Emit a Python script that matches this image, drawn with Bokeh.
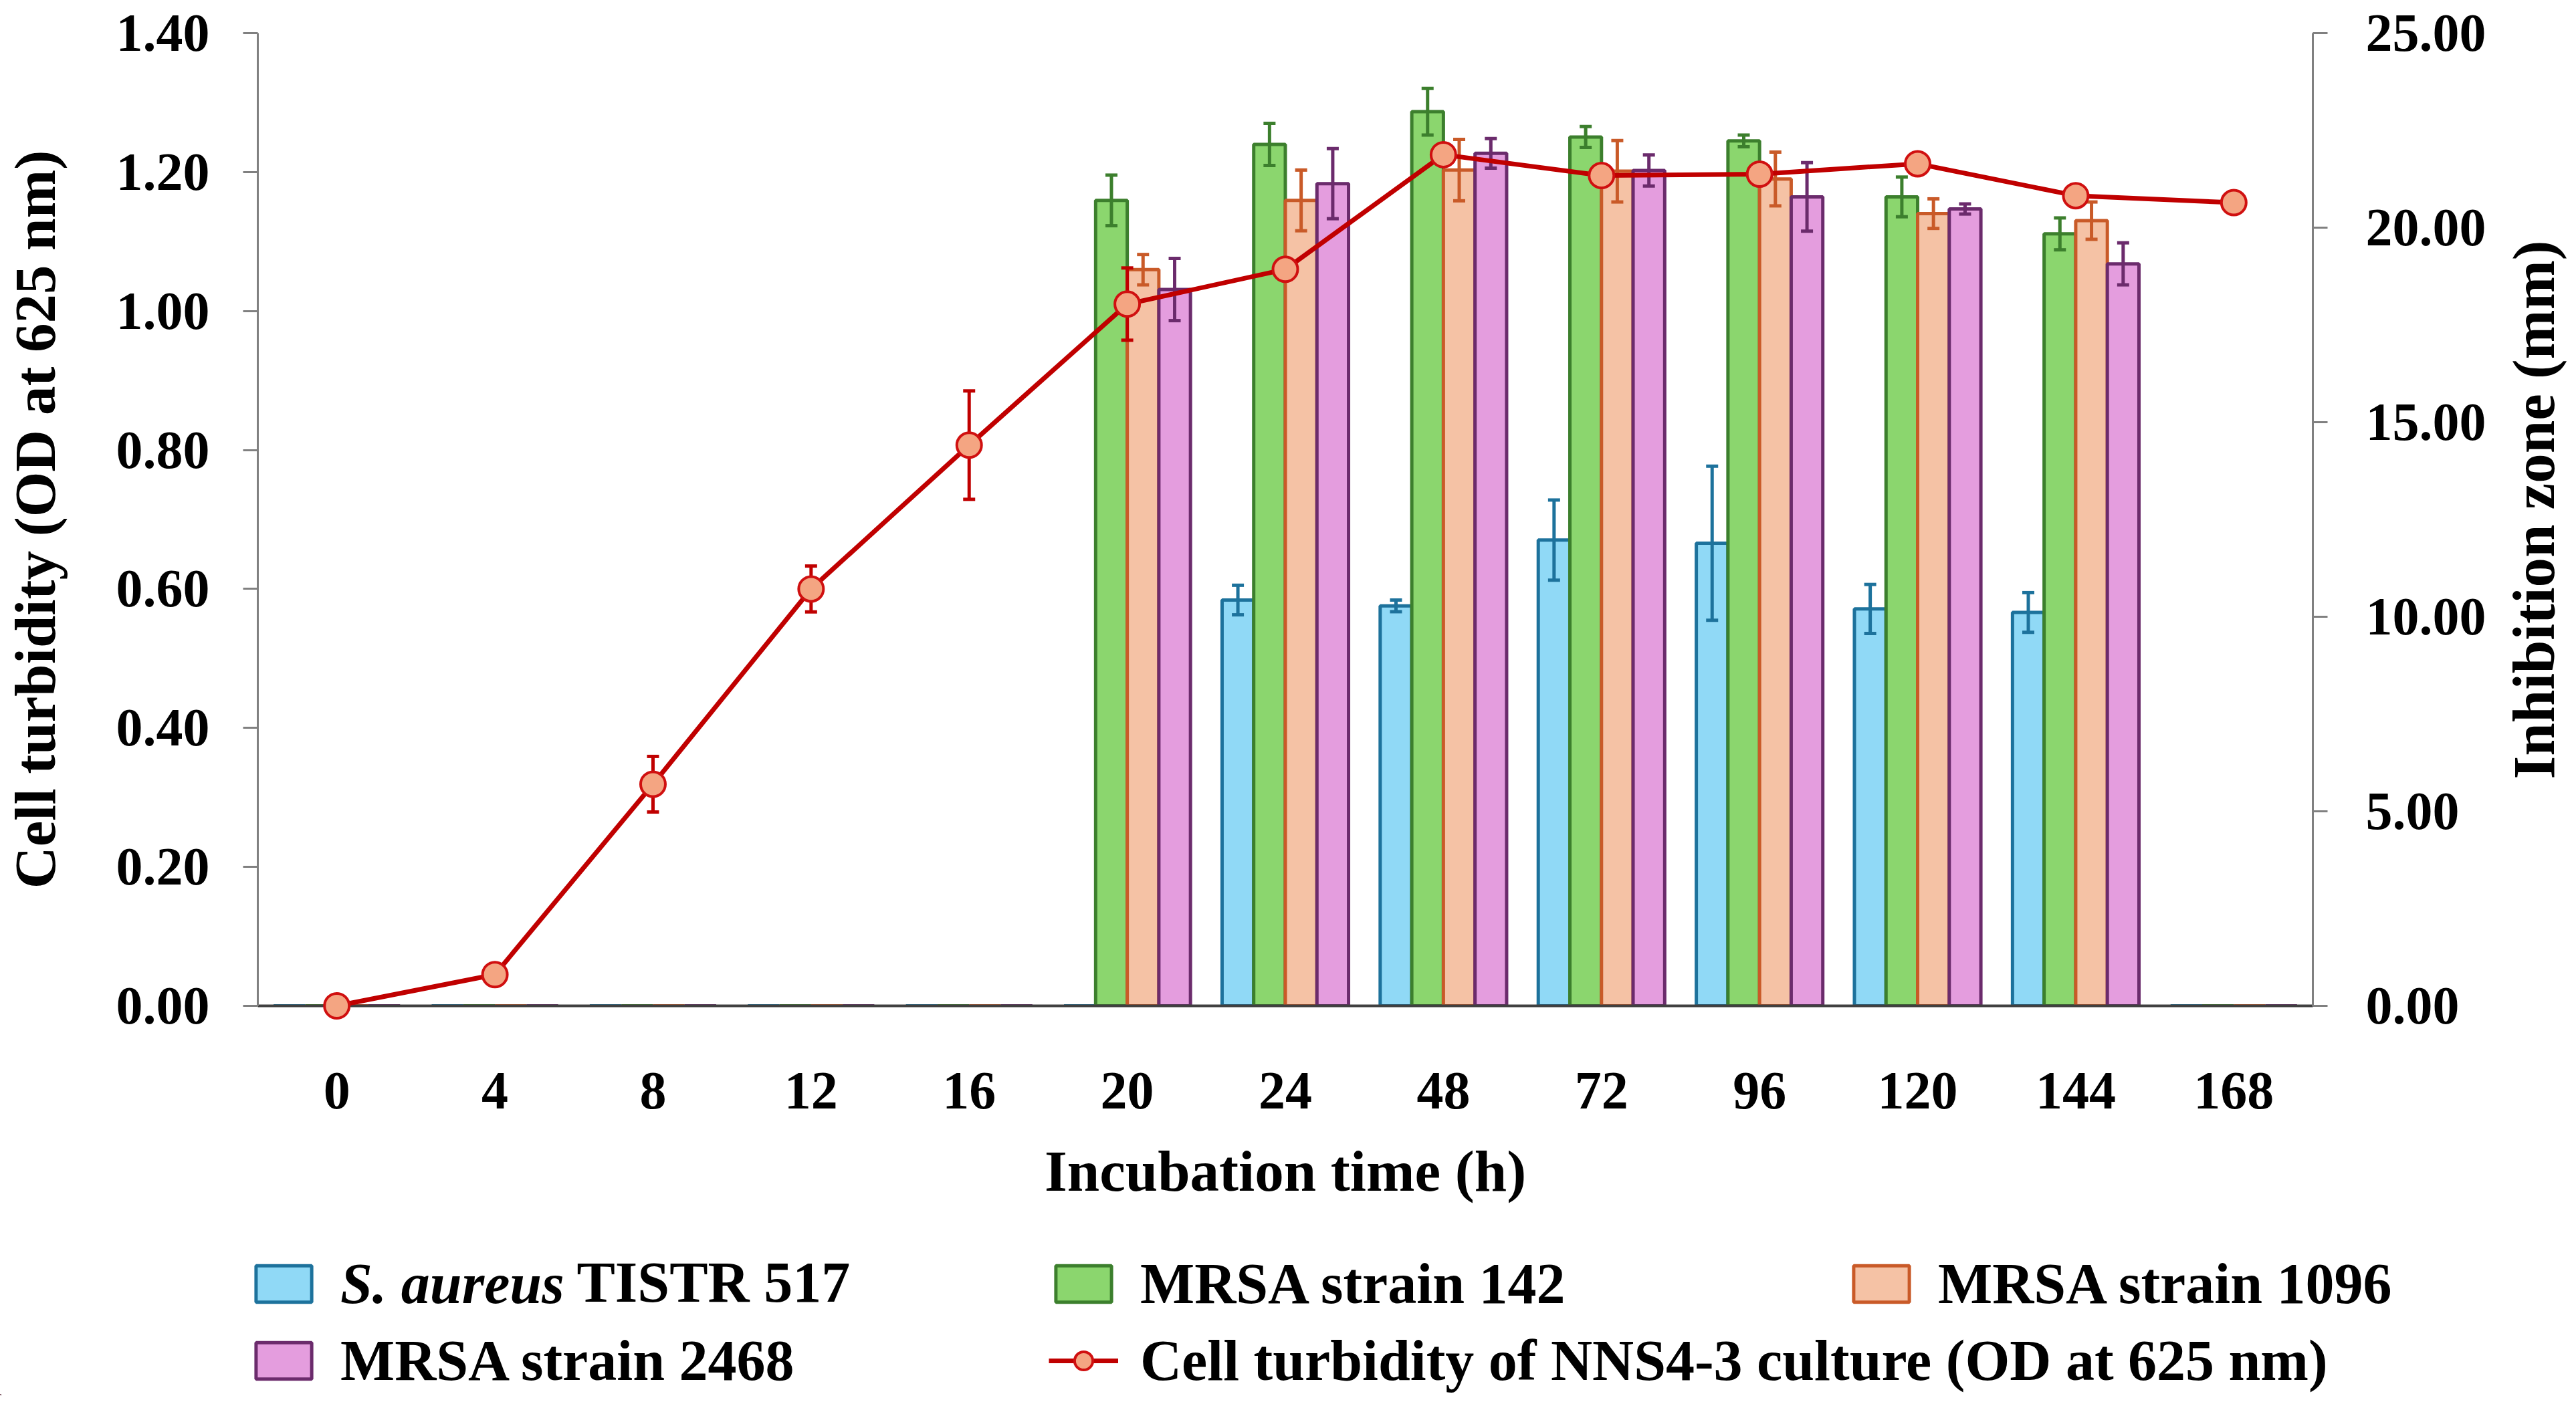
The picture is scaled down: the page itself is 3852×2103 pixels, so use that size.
from bokeh.plotting import figure
from bokeh.layouts import column, row
from bokeh.models import (Range1d, LinearAxis, FactorRange, Whisker, TeeHead, ColumnDataSource,
                          Legend, LegendItem, Label, FixedTicker, PrintfTickFormatter)
from bokeh.transform import dodge
from bokeh.embed import file_html
from bokeh.resources import INLINE
import math

# ---------------- data ----------------
times = ["0", "4", "8", "12", "16", "20", "24", "48", "72", "96", "120", "144", "168"]

od = [0.000, 0.045, 0.319, 0.600, 0.807, 1.010, 1.060, 1.225, 1.195, 1.197, 1.212, 1.166, 1.156]
od_err = [0.000, 0.004, 0.040, 0.033, 0.078, 0.052, 0.010, 0.010, 0.008, 0.008, 0.006, 0.008, 0.005]

sa = [0, 0, 0, 0, 0, 0, 10.43, 10.28, 11.97, 11.89, 10.20, 10.11, 0]
sa_err = [0, 0, 0, 0, 0, 0, 0.38, 0.15, 1.03, 1.98, 0.63, 0.51, 0]
m142 = [0, 0, 0, 0, 0, 20.70, 22.14, 22.98, 22.33, 22.23, 20.79, 19.84, 0]
m142_err = [0, 0, 0, 0, 0, 0.65, 0.54, 0.60, 0.27, 0.15, 0.51, 0.41, 0]
m1096 = [0, 0, 0, 0, 0, 18.92, 20.70, 21.48, 21.45, 21.25, 20.36, 20.18, 0]
m1096_err = [0, 0, 0, 0, 0, 0.39, 0.78, 0.79, 0.79, 0.69, 0.38, 0.48, 0]
m2468 = [0, 0, 0, 0, 0, 18.41, 21.13, 21.91, 21.47, 20.79, 20.48, 19.07, 0]
m2468_err = [0, 0, 0, 0, 0, 0.80, 0.90, 0.38, 0.40, 0.88, 0.13, 0.54, 0]

left_ticks = [0.0, 0.2, 0.4, 0.6, 0.8, 1.0, 1.2, 1.4]
right_ticks = [0, 5, 10, 15, 20, 25]

series = [
    ("sa", sa, sa_err, "#90D9F6", "#1D729C", -0.3),
    ("m142", m142, m142_err, "#8BD66E", "#3C7F2D", -0.1),
    ("m1096", m1096, m1096_err, "#F5C2A5", "#C95A28", 0.1),
    ("m2468", m2468, m2468_err, "#E49DDE", "#6B2B6C", 0.3),
]
LINE_RED = "#C00000"
MARK_FILL = "#F4A582"
MARK_LINE = "#D01010"

FONT = "Liberation Serif"

p = figure(x_range=FactorRange(*times, range_padding=0), y_range=Range1d(0, 1.4),
           frame_width=3073, frame_height=1455,
           min_border_left=378, min_border_right=270, min_border_top=49, min_border_bottom=350,
           output_backend="svg", toolbar_location=None, tools="")
p.frame_align = False
p.outline_line_color = None
p.grid.grid_line_color = None
p.extra_y_ranges = {"mm": Range1d(0, 25)}

for name, vals, errs, fill, line, off in series:
    src = ColumnDataSource(dict(t=times, v=vals))
    p.vbar(x=dodge("t", off, range=p.x_range), top="v", bottom=0, width=0.2, source=src,
           fill_color=fill, line_color=line, line_width=5, y_range_name="mm")
    keep = [i for i in range(len(times)) if vals[i] > 0]
    wsrc = ColumnDataSource(dict(t=[times[i] for i in keep],
                                 upper=[vals[i] + errs[i] for i in keep],
                                 lower=[vals[i] - errs[i] for i in keep]))
    w = Whisker(base=dodge("t", off, range=p.x_range), upper="upper", lower="lower", source=wsrc,
                y_range_name="mm", line_color=line, line_width=5, level="annotation",
                upper_head=TeeHead(size=18, line_color=line, line_width=5),
                lower_head=TeeHead(size=18, line_color=line, line_width=5))
    p.add_layout(w)

# line series (left axis)
lsrc = ColumnDataSource(dict(t=times, v=od,
                             upper=[a + b for a, b in zip(od, od_err)],
                             lower=[a - b for a, b in zip(od, od_err)]))
lw = Whisker(base="t", upper="upper", lower="lower", source=lsrc, line_color=LINE_RED, line_width=5,
             level="annotation",
             upper_head=TeeHead(size=18, line_color=LINE_RED, line_width=5),
             lower_head=TeeHead(size=18, line_color=LINE_RED, line_width=5))
p.add_layout(lw)
p.line(x="t", y="v", source=lsrc, line_color=LINE_RED, line_width=7, level="overlay")
p.scatter(x="t", y="v", source=lsrc, size=37, fill_color=MARK_FILL, line_color=MARK_LINE,
          line_width=4, level="overlay")

# axes
yl = p.yaxis[0]
yl.ticker = FixedTicker(ticks=left_ticks)
yl.formatter = PrintfTickFormatter(format="%.2f")
yl.axis_label = "Cell turbidity (OD at 625 nm)"

yr = LinearAxis(y_range_name="mm", ticker=FixedTicker(ticks=right_ticks),
                formatter=PrintfTickFormatter(format="%.2f"))
p.add_layout(yr, "right")

for ax in (yl, yr):
    ax.axis_line_color = "#808080"
    ax.axis_line_width = 3
    ax.major_tick_line_color = "#808080"
    ax.major_tick_line_width = 3
    ax.major_tick_out = 22
    ax.major_tick_in = 0
    ax.minor_tick_line_color = None
    ax.major_label_text_font = FONT
    ax.major_label_text_font_style = "bold"
    ax.major_label_text_font_size = "80px"
    ax.major_label_text_color = "black"
    ax.axis_label_text_font = FONT
    ax.axis_label_text_font_style = "bold"
    ax.axis_label_text_font_size = "87px"
    ax.axis_label_text_color = "black"
yl.major_label_standoff = 50
yl.axis_label_standoff = 70
yr.major_label_standoff = 57

xa = p.xaxis[0]
xa.axis_label = "Incubation time (h)"
xa.axis_line_color = "#404040"
xa.axis_line_width = 4
xa.major_tick_line_color = None
xa.major_tick_out = 0
xa.major_tick_in = 0
xa.major_label_text_font = FONT
xa.major_label_text_font_style = "bold"
xa.major_label_text_font_size = "80px"
xa.major_label_text_color = "black"
xa.major_label_standoff = 100
xa.axis_label_text_font = FONT
xa.axis_label_text_font_style = "bold"
xa.axis_label_text_font_size = "87px"
xa.axis_label_text_color = "black"
xa.axis_label_standoff = 42

# ---------------- right-hand axis title panel ----------------
pr = figure(width=115, height=1854, x_range=Range1d(0, 1), y_range=Range1d(0, 1),
            x_axis_type=None, y_axis_type=None, min_border=0,
            output_backend="svg", toolbar_location=None, tools="")
pr.frame_align = False
pr.outline_line_color = None
pr.grid.visible = False
pr.add_layout(Label(x=60, y=1092, x_units="screen", y_units="screen", text="Inhibition zone (mm)",
                    angle=math.pi / 2, text_align="center", text_baseline="middle",
                    text_font=FONT, text_font_style="bold", text_font_size="89px", text_color="black"))

# ---------------- legend panel ----------------
pl = figure(width=3836, height=233, x_range=Range1d(0, 1), y_range=Range1d(0, 1),
            x_axis_type=None, y_axis_type=None, min_border=0,
            output_backend="svg", toolbar_location=None, tools="")
pl.frame_align = False
pl.outline_line_color = None
pl.grid.visible = False

# off-screen proxies that only supply the legend swatches
leg_r = {}
for name, vals, errs, fill, line, off in series:
    leg_r[name] = pl.vbar(x=[-5], top=[-5], bottom=[-6], width=0.2,
                          fill_color=fill, line_color=line, line_width=5)
leg_line = pl.line(x=[-6, -5], y=[-5, -5], line_color=LINE_RED, line_width=7)
leg_mark = pl.scatter(x=[-5], y=[-5], size=37, fill_color=MARK_FILL, line_color=MARK_LINE, line_width=4)


def make_legend(items, loc, style="bold"):
    lg = Legend(items=items, location=loc, orientation="vertical",
                border_line_color=None, background_fill_alpha=0, padding=0, margin=0,
                spacing=0, glyph_width=104, glyph_height=68, label_standoff=33,
                label_text_font=FONT, label_text_font_style=style, label_text_font_size="86px",
                label_text_color="black")
    pl.add_layout(lg, "center")
    return lg


row1_y = 117
row2_y = 2
make_legend([LegendItem(label="S. aureus", renderers=[leg_r["sa"]])], (372, row1_y), "bold italic")
make_legend([LegendItem(label="MRSA strain 2468", renderers=[leg_r["m2468"]])], (372, row2_y))
make_legend([LegendItem(label="MRSA strain 142", renderers=[leg_r["m142"]])], (1568, row1_y))
make_legend([LegendItem(label="Cell turbidity of NNS4-3 culture (OD at 625 nm)",
                        renderers=[leg_line, leg_mark])], (1568, row2_y))
make_legend([LegendItem(label="MRSA strain 1096", renderers=[leg_r["m1096"]])], (2761, row1_y))

pl.add_layout(Label(x=862, y=170, x_units="screen", y_units="screen", text="TISTR 517",
                    text_font=FONT, text_font_style="bold", text_font_size="86px",
                    text_baseline="middle", text_color="black"))

layout = column(row(p, pr, spacing=0), pl, spacing=0)
open("out.html", "w").write(file_html(layout, INLINE))
